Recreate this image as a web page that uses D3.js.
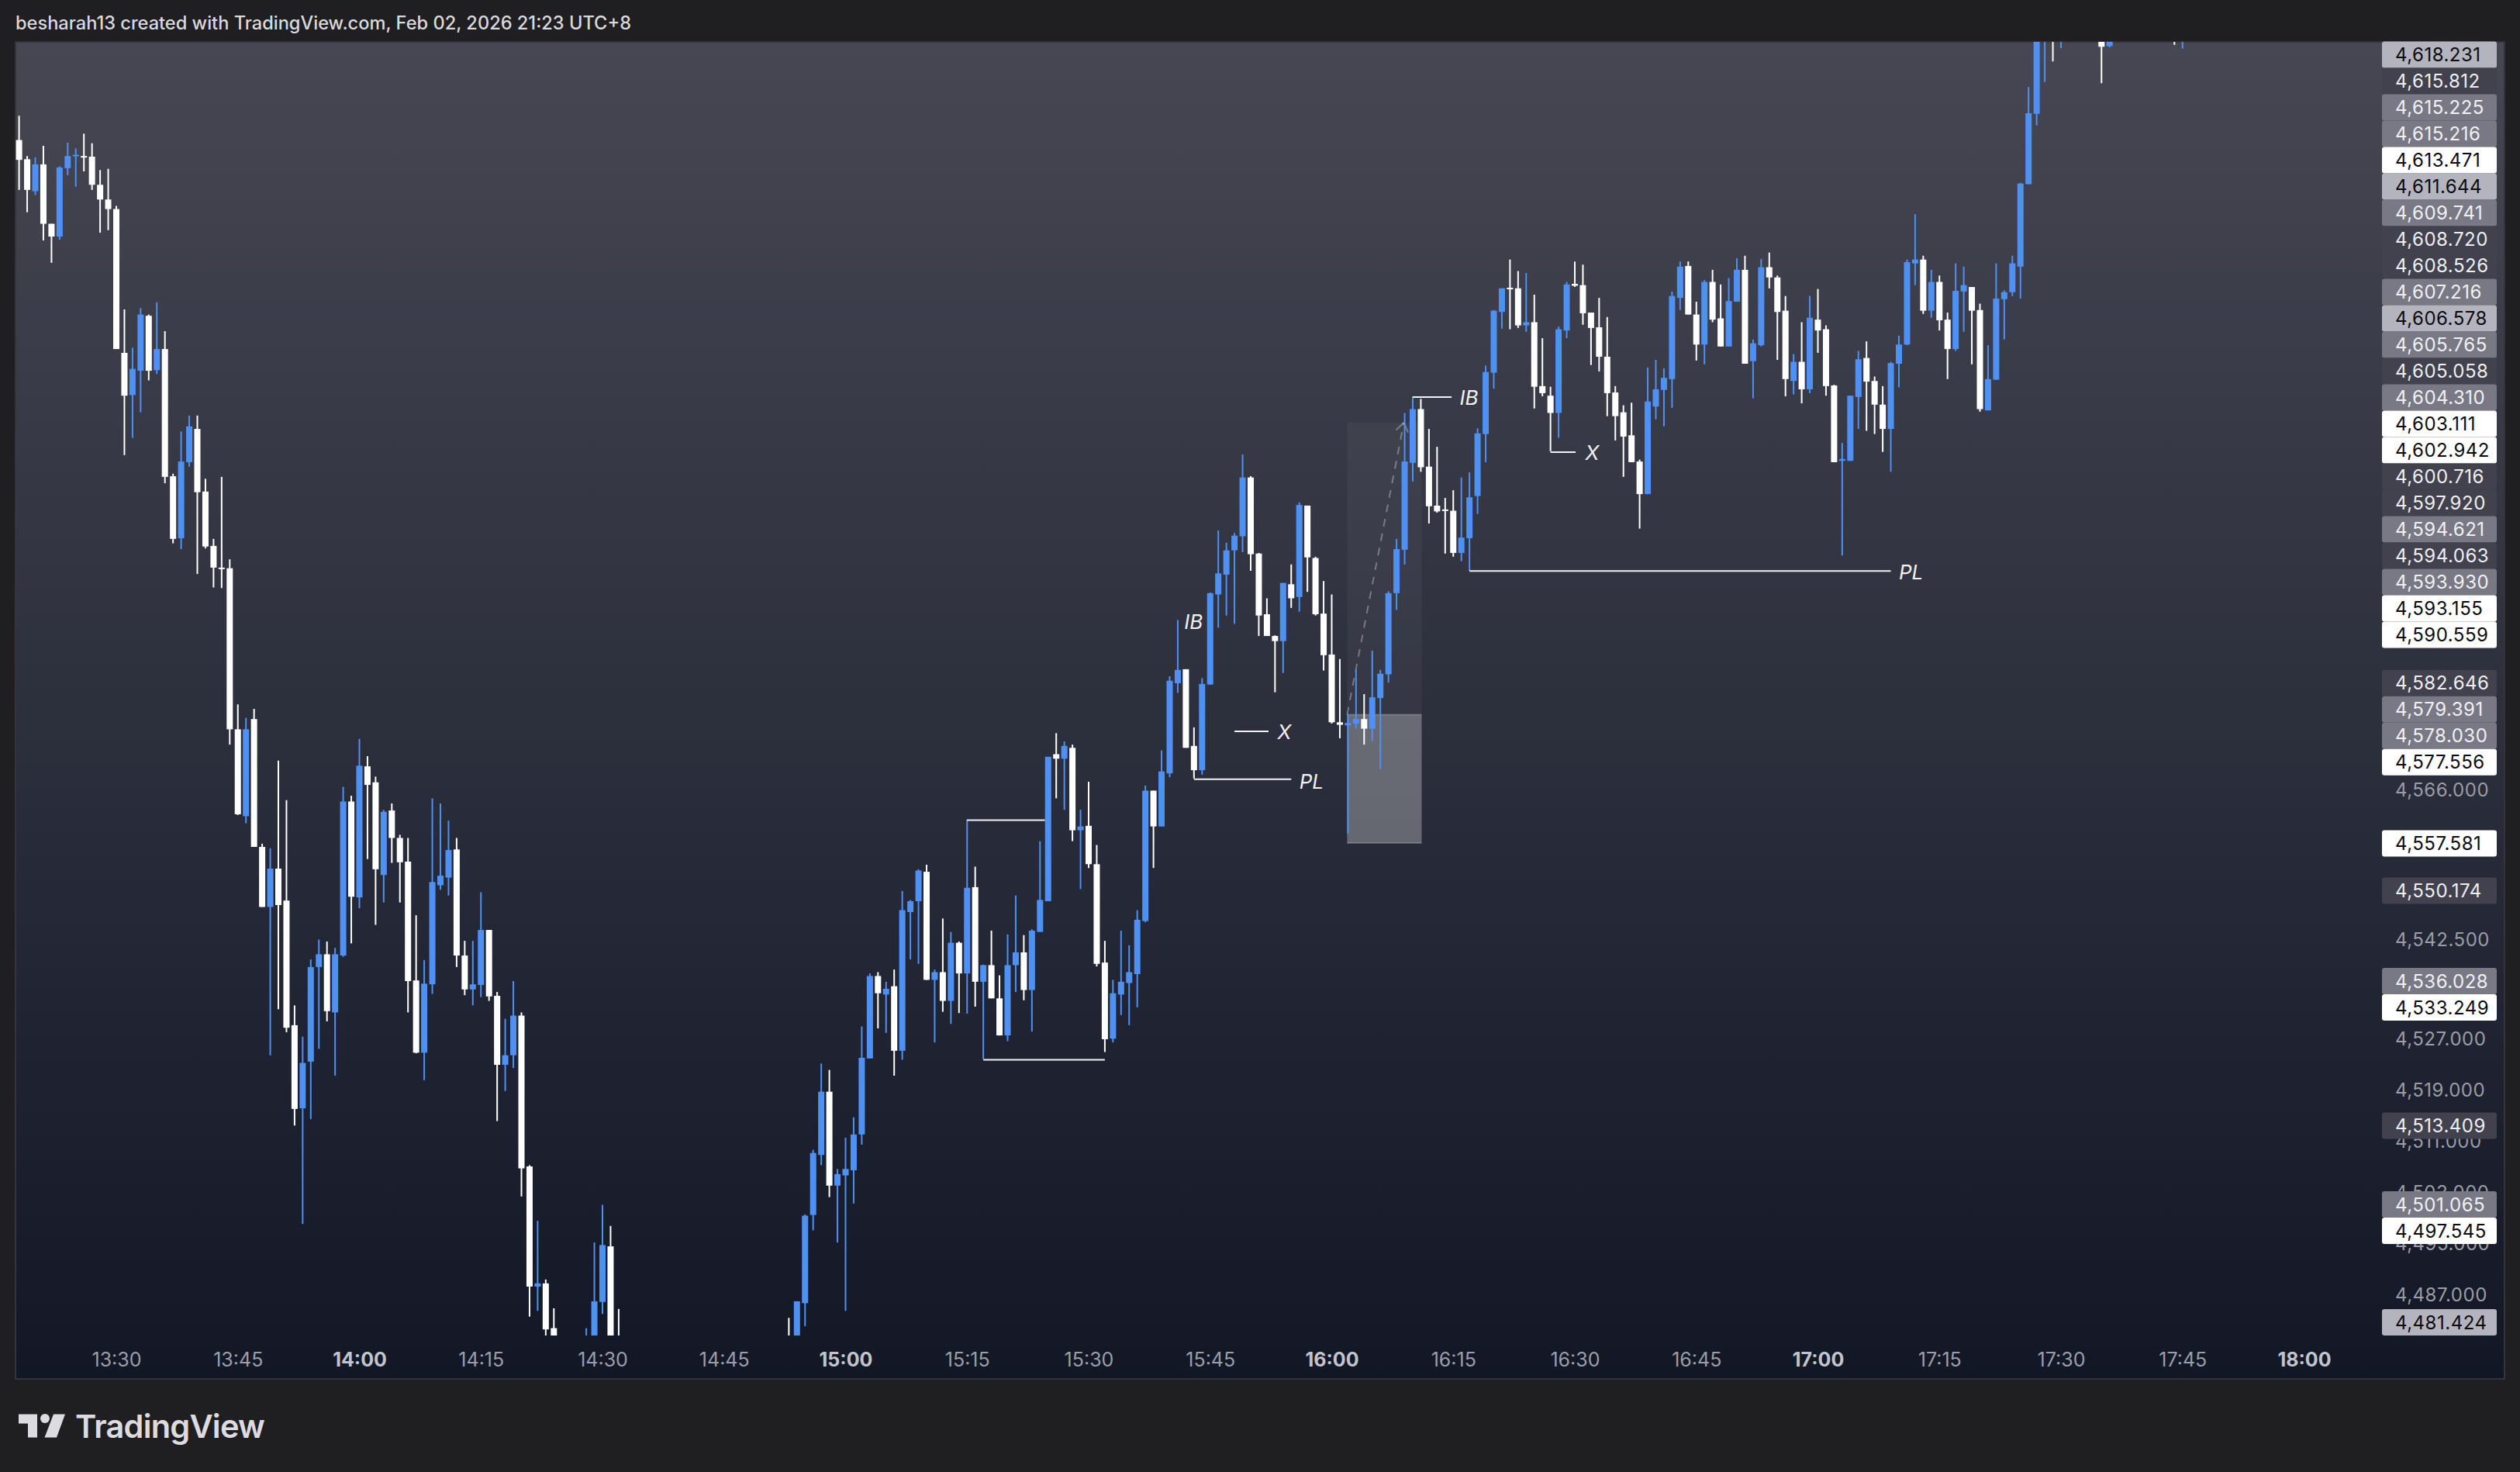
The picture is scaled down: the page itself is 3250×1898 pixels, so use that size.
<!DOCTYPE html>
<html><head><meta charset="utf-8">
<script src="https://cdn.jsdelivr.net/npm/d3@7/dist/d3.min.js"></script>
<style>html,body{margin:0;padding:0;background:#1f1e21;overflow:hidden}svg{display:block}</style>
</head><body><svg id="c" width="3250" height="1898"></svg>
<script>
const _ = null;
// 1-minute candles starting at 13:18; null = outside the visible pane
const opens = [
4667.5,4664.5,4659.5,4663.7,4654.4,4652.4,4663.1,4665.0,4665.0,4664.9,
4660.5,4658.2,4656.7,4634.2,4627.6,4631.4,4640.0,4631.5,4634.8,4614.9,
4605.2,4617.1,4622.3,4612.5,4604.0,4600.6,4600.5,4575.3,4561.7,4576.9,
4556.9,4547.5,4553.5,4548.5,4529.0,4516.0,4523.3,4538.1,4540.1,4531.0,
4539.9,4564.0,4549.0,4569.5,4567.0,4552.5,4562.6,4558.3,4554.6,4536.0,
4524.7,4535.4,4550.9,4552.1,4556.5,4539.9,4534.6,4535.3,4543.9,4533.6,
4522.8,4524.3,4530.5,4506.9,4488.1,4488.6,4481.6,_,_,_,
4474.0,4476.0,4485.7,4494.4,4478.0,_,_,_,_,_,
_,_,_,_,_,_,_,_,_,_,
_,_,_,_,_,4478.0,4476.0,4485.5,4499.3,4508.7,
4518.6,4503.9,4505.5,4506.3,4511.9,4523.8,4536.7,4533.8,4535.1,4525.0,
4546.7,4548.4,4553.0,4536.1,4537.3,4532.8,4541.9,4537.1,4550.6,4535.8,
4538.4,4533.2,4527.4,4538.4,4540.4,4534.5,4543.6,4548.4,4571.4,4570.7,
4572.4,4559.5,4560.2,4554.2,4538.8,4526.9,4533.8,4535.6,4537.0,4545.3,
4565.7,4560.1,4568.4,4582.5,4584.7,4572.7,4568.9,4582.3,4596.4,4599.5,
4603.3,4605.5,4614.7,4602.8,4593.3,4589.9,4589.1,4598.0,4596.0,4610.3,
4602.1,4593.4,4587.0,4576.4,4575.9,4576.2,4576.9,4575.4,4580.2,4583.9,
4596.6,4603.4,4617.0,4625.4,4616.4,4610.3,4609.7,4609.5,4602.9,4605.2,
4611.8,4621.5,4631.1,4640.6,4644.4,4644.3,4638.5,4639.0,4629.0,4627.5,
4624.8,4637.7,4645.0,4644.8,4640.5,4638.2,4633.6,4628.0,4624.9,4621.3,
4617.2,4612.1,4625.8,4628.4,4630.1,4642.8,4647.8,4640.2,4635.5,4645.3,
4639.6,4635.2,4642.2,4647.2,4632.9,4635.4,4647.6,4646.0,4640.8,4629.8,
4632.8,4628.5,4639.4,4637.9,4629.1,4617.3,4617.3,4627.3,4633.4,4629.8,
4626.1,4622.3,4632.5,4635.5,4648.2,4648.8,4640.8,4645.3,4639.4,4634.8,
4643.8,4644.5,4640.9,4625.2,4630.0,4642.6,4643.7,4647.7,4660.6,4671.6,
4686,4692,4690,_,_,_,_,4689,4682.2,_,
_,_,_,_,_,_,4692,4687];
const highs = [
4671.3,4665.0,4664.8,4666.6,4654.4,4663.4,4667.1,4666.2,4668.5,4667.0,
4662.8,4663.0,4657.2,4641.0,4635.0,4641.2,4640.2,4642.1,4637.6,4615.3,
4621.9,4624.4,4624.4,4614.5,4605.1,4614.8,4601.9,4579.2,4577.1,4578.5,
4557.4,4556.7,4570.4,4564.2,4532.1,4527.2,4539.3,4542.4,4542.1,4541.1,
4566.3,4564.9,4573.8,4571.1,4567.9,4562.7,4563.7,4558.8,4558.3,4546.2,
4539.2,4564.5,4563.7,4561.0,4558.3,4542.2,4542.2,4549.8,4543.9,4534.2,
4530.0,4535.9,4531.0,4507.1,4498.4,4489.2,4484.7,_,_,_,
4481.6,4495.0,4500.9,4497.6,4484.6,_,_,_,_,_,
_,_,_,_,_,_,_,_,_,_,
_,_,_,_,_,4483.2,4485.8,4499.4,4509.5,4523.0,
4522.0,4506.5,4511.4,4514.6,4528.8,4537.1,4537.3,4535.8,4537.7,4550.0,
4548.6,4553.4,4554.1,4537.7,4545.7,4543.6,4542.1,4561.2,4553.8,4538.5,
4543.8,4536.8,4543.2,4549.3,4543.1,4544.0,4557.8,4571.0,4574.7,4573.4,
4572.9,4562.7,4567.1,4557.2,4542.2,4536.1,4543.8,4541.5,4547.0,4566.5,
4565.7,4572.0,4583.6,4592.4,4584.7,4575.6,4583.3,4596.7,4606.4,4604.5,
4606.0,4618.3,4614.9,4602.9,4595.8,4590.0,4598.2,4601.1,4610.8,4610.3,
4602.3,4598.5,4596.4,4586.3,4577.7,4584.6,4580.8,4587.6,4584.6,4596.9,
4605.1,4624.8,4627.4,4627.0,4622.3,4619.5,4611.5,4612.7,4614.7,4615.5,
4622.4,4632.2,4640.9,4644.3,4648.8,4647.0,4646.7,4643.3,4636.5,4628.9,
4638.3,4645.3,4648.5,4648.0,4640.5,4642.8,4639.8,4629.0,4626.0,4626.4,
4617.5,4631.9,4633.1,4631.8,4643.8,4648.5,4648.5,4642.2,4645.6,4647.2,
4644.9,4645.9,4649.0,4649.4,4636.3,4648.9,4649.9,4646.3,4643.1,4634.0,
4639.0,4643.1,4644.2,4638.5,4629.2,4620.1,4627.5,4634.5,4636.0,4630.5,
4629.0,4632.8,4636.9,4648.8,4655.9,4649.4,4647.2,4646.3,4640.5,4648.2,
4647.7,4644.5,4641.9,4635.4,4648.2,4644.0,4649.4,4660.8,4675.8,4690.0,
4695,4695,4697,_,_,_,_,4692,4692,_,
_,_,_,_,_,_,4693,4694];
const lows = [
4659.7,4656.2,4658.9,4651.8,4648.3,4651.9,4662.0,4660.2,4662.6,4659.7,
4653.0,4653.4,4634.8,4618.2,4620.9,4624.9,4629.9,4630.9,4613.8,4604.4,
4603.5,4616.4,4599.6,4603.6,4597.5,4597.4,4572.9,4561.9,4560.6,4556.9,
4547.5,4524.3,4531.5,4527.9,4513.3,4497.9,4514.3,4525.3,4529.6,4521.1,
4539.7,4541.8,4547.3,4555.0,4544.7,4548.2,4554.4,4548.2,4531.0,4524.6,
4520.4,4533.9,4550.2,4549.3,4538.1,4533.7,4532.1,4533.4,4532.8,4514.0,
4518.7,4522.3,4502.2,4483.4,4484.3,4480.4,4476.0,_,_,_,
4472.0,4474.0,4483.8,4474.0,4472.0,_,_,_,_,_,
_,_,_,_,_,_,_,_,_,_,
_,_,_,_,_,4472.0,4474.0,4481.9,4496.9,4507.1,
4502.1,4495.0,4484.3,4501.1,4510.3,4523.8,4528.5,4527.8,4521.1,4523.6,
4539.3,4538.6,4536.1,4526.3,4531.1,4529.2,4530.9,4530.8,4531.9,4523.7,
4533.2,4527.4,4526.5,4534.2,4532.9,4528.0,4543.6,4548.4,4564.5,4562.7,
4557.8,4550.3,4553.6,4538.2,4524.8,4526.3,4530.6,4529.0,4531.8,4545.1,
4553.6,4560.1,4567.8,4581.0,4572.4,4567.6,4568.2,4582.3,4591.2,4593.1,
4591.8,4603.0,4600.1,4589.9,4589.9,4581.1,4584.1,4594.3,4593.7,4596.8,
4593.1,4584.5,4576.2,4573.9,4559.0,4575.4,4572.9,4573.5,4569.1,4582.6,
4594.0,4601.1,4614.1,4615.6,4607.5,4609.2,4602.8,4602.3,4601.6,4600.1,
4609.0,4617.1,4628.6,4638.0,4637.9,4638.1,4637.5,4625.5,4627.4,4618.8,
4620.9,4636.5,4644.5,4638.6,4632.3,4631.3,4624.3,4620.5,4614.8,4617.1,
4606.7,4612.1,4623.8,4622.7,4625.6,4640.9,4640.2,4633.0,4632.4,4639.0,
4635.2,4635.2,4642.2,4632.5,4627.1,4635.2,4644.3,4633.1,4627.4,4627.7,
4626.3,4627.9,4634.2,4627.5,4617.1,4602.5,4617.3,4622.3,4622.0,4621.5,
4618.7,4615.6,4628.8,4635.4,4644.8,4640.3,4639.7,4637.7,4630.1,4634.5,
4637.5,4632.4,4625.0,4625.2,4630.0,4636.3,4643.1,4642.7,4660.6,4669.8,
4676.6,4679.8,4681.9,_,_,_,_,4676.4,4682.0,_,
_,_,_,_,_,_,4682.4,4681.8];
const closes = [
4664.4,4659.7,4663.7,4654.4,4652.4,4663.2,4665.0,4665.2,4664.8,4660.5,
4658.2,4656.7,4634.8,4627.5,4631.7,4640.2,4631.4,4634.8,4614.8,4605.1,
4617.2,4622.7,4612.4,4603.9,4600.6,4600.4,4575.3,4562.0,4575.3,4556.9,
4547.5,4553.5,4547.8,4528.6,4515.9,4523.1,4538.1,4540.1,4531.2,4540.1,
4564.0,4549.1,4569.6,4566.6,4553.4,4562.4,4558.3,4554.5,4535.9,4524.7,
4535.5,4551.4,4552.4,4556.4,4539.9,4534.6,4535.4,4543.9,4533.5,4522.8,
4524.3,4530.5,4506.6,4488.1,4488.6,4481.4,4478.0,_,_,_,
4479.0,4485.8,4494.6,4476.0,4474.0,_,_,_,_,_,
_,_,_,_,_,_,_,_,_,_,
_,_,_,_,_,4474.0,4485.8,4499.2,4509.0,4518.6,
4503.9,4505.7,4506.5,4511.9,4523.9,4536.7,4534.0,4534.7,4525.0,4547.0,
4548.4,4553.2,4536.1,4537.3,4532.8,4541.9,4537.1,4550.5,4535.8,4538.4,
4533.2,4527.4,4538.4,4540.4,4534.5,4543.8,4548.6,4571.0,4570.7,4572.7,
4559.5,4560.1,4554.2,4538.6,4526.8,4534.0,4535.8,4537.3,4545.5,4565.7,
4560.1,4568.7,4582.9,4584.6,4572.4,4568.9,4582.4,4596.6,4599.7,4603.3,
4605.6,4614.7,4602.7,4593.1,4589.9,4589.1,4598.2,4595.8,4610.4,4602.2,
4593.3,4586.9,4576.4,4576.0,4576.3,4576.9,4575.4,4580.3,4584.0,4596.6,
4603.5,4617.2,4625.4,4616.3,4610.2,4609.4,4609.5,4602.9,4605.3,4611.6,
4621.6,4631.2,4640.8,4644.3,4644.2,4638.5,4639.0,4628.9,4627.9,4624.8,
4637.9,4644.9,4644.7,4640.4,4638.1,4633.6,4627.9,4624.3,4621.1,4617.1,
4612.1,4626.6,4628.5,4630.3,4643.1,4647.7,4640.2,4635.5,4645.3,4639.4,
4635.2,4642.3,4647.2,4632.5,4635.7,4647.6,4646.0,4640.6,4630.1,4632.8,
4628.5,4639.7,4637.7,4629.0,4617.1,4617.6,4627.5,4633.2,4629.7,4626.1,
4622.3,4632.6,4635.5,4648.4,4648.8,4640.8,4645.3,4639.3,4634.8,4643.9,
4644.8,4640.8,4625.4,4630.1,4642.7,4643.7,4648.2,4660.7,4671.7,4686.0,
4692,4688,4695,_,_,_,_,4682.1,4690,_,
_,_,_,_,_,_,4688,4692];

const startMinute = 13*60+18;
const timeTicks = ["13:30","13:45","14:00","14:15","14:30","14:45","15:00","15:15","15:30","15:45","16:00","16:15","16:30","16:45","17:00","17:15","17:30","17:45","18:00"];
const priceTicks = [4566,4542.5,4527,4519,4511,4503,4495,4487];
const markValues = [4618.231,4615.812,4615.225,4615.216,4613.471,4611.644,4609.741,4608.720,4608.526,4607.216,4606.578,4605.765,4605.058,4604.310,4603.111,4602.942,4600.716,4597.920,4594.621,4594.063,4593.930,4593.155,4590.559,4582.646,4579.391,4578.030,4577.556,4557.581,4550.174,4536.028,4533.249,4513.409,4501.065,4497.545,4481.424];
const markTiers = ["light","dark","mid","mid","white","light","mid","dark","dark","mid","light","mid","dark","mid","white","white","dark","dark","mid","dark","mid","white","white","dark","mid","mid","white","white","dark","mid","white","dark","mid","white","light"];
const anchorMark = 4590.559;
// annotation lines: [from candle, to candle, price]
const refLines = [[117,126.6,4561.2],[119,134,4523.7],[145,157,4567.6],[150,154.2,4575.1],[172,176.8,4627.4],[189,192.1,4618.8],[179,231,4600.2]];
// annotation labels: [candle position, price, text]
const refTexts = [[158,4567.4,"PL"],[155.3,4575.1,"X"],[143.8,4592.4,"IB"],[177.8,4627.4,"IB"],[193.3,4618.8,"X"],[232,4600.2,"PL"]];
const positionBox = {from:163.9,to:173.1,target:4623.3,entry:4577.6,stop:4557.5};
const pathEnd = {idx:170.9,price:4623.3};
const headerText = "besharah13 created with TradingView.com, Feb 02, 2026 21:23 UTC+8";

const W=3250,H=1898,paneL=20,paneR=3230,paneT=54,paneB=1778,plotB=1722;
const FONT="Inter, Roboto, sans-serif";
const x=d3.scaleLinear().domain([0,1]).range([24.6,35.05]);
const y=d3.scaleLinear().domain([4487,4566]).range([1668,1017]);
const svg=d3.select("#c");
const defs=svg.append("defs");
const g=defs.append("linearGradient").attr("id","bg").attr("gradientUnits","userSpaceOnUse").attr("x1",0).attr("x2",0).attr("y1",paneT).attr("y2",paneB);
g.append("stop").attr("offset",0).attr("stop-color","#474753");
g.append("stop").attr("offset",1).attr("stop-color","#121726");
defs.append("clipPath").attr("id","plot").append("rect").attr("x",paneL).attr("y",paneT).attr("width",paneR-paneL).attr("height",plotB-paneT);

svg.append("rect").attr("width",W).attr("height",H).attr("fill","#1f1e21");
svg.append("rect").attr("x",paneL).attr("y",paneT).attr("width",paneR-paneL).attr("height",paneB-paneT).attr("fill","url(#bg)").attr("stroke","#35343c").attr("stroke-width",2);
svg.append("text").attr("x",20).attr("y",38).attr("font-family",FONT).attr("font-size",23.6).attr("font-weight",500).attr("fill","#d9d9dd").text(headerText);

const plot=svg.append("g").attr("clip-path","url(#plot)");
// position box
const boxX=x(positionBox.from),boxW=x(positionBox.to)-x(positionBox.from);
plot.append("rect").attr("x",boxX).attr("width",boxW).attr("y",y(positionBox.target)).attr("height",y(positionBox.entry)-y(positionBox.target)).attr("fill","#fff").attr("opacity",0.045);
plot.append("rect").attr("x",boxX).attr("width",boxW).attr("y",y(positionBox.entry)).attr("height",y(positionBox.stop)-y(positionBox.entry)).attr("fill","#fff").attr("opacity",0.29);
[positionBox.entry,positionBox.stop].forEach(p=>plot.append("line").attr("x1",boxX).attr("x2",boxX+boxW).attr("y1",y(p)).attr("y2",y(p)).attr("stroke","#fff").attr("stroke-opacity",.2).attr("stroke-width",2));
// dashed path with arrow head
const px0=x(positionBox.from),py0=y(positionBox.entry),px1=x(pathEnd.idx),py1=y(pathEnd.price);
plot.append("line").attr("x1",px0).attr("y1",py0).attr("x2",px1).attr("y2",py1).attr("stroke","#fff").attr("stroke-opacity",.32).attr("stroke-width",2).attr("stroke-dasharray","10 9");
const ang=Math.atan2(py1-py0,px1-px0);
[-0.6,0.6].forEach(s=>plot.append("line").attr("x1",px1).attr("y1",py1).attr("x2",px1-14*Math.cos(ang+s)).attr("y2",py1-14*Math.sin(ang+s)).attr("stroke","#fff").attr("stroke-opacity",.32).attr("stroke-width",2));

const candles=d3.range(opens.length).filter(i=>opens[i]!==null).map(i=>({i,o:opens[i],h:highs[i],l:lows[i],c:closes[i]}));
const BLUE="#4e91f3",WHITE="#ffffff",colr=d=>d.c>=d.o?BLUE:WHITE;
plot.selectAll("line.w").data(candles).join("line").attr("class","w").attr("x1",d=>x(d.i)).attr("x2",d=>x(d.i)).attr("y1",d=>y(d.h)).attr("y2",d=>y(d.l)).attr("stroke",colr).attr("stroke-width",2);
plot.selectAll("rect.b").data(candles).join("rect").attr("class","b").attr("x",d=>x(d.i)-4).attr("width",8).attr("y",d=>y(Math.max(d.o,d.c))).attr("height",d=>Math.max(2,Math.abs(y(d.o)-y(d.c)))).attr("fill",colr);

plot.selectAll("line.ref").data(refLines).join("line").attr("class","ref").attr("x1",d=>x(d[0])).attr("x2",d=>x(d[1])).attr("y1",d=>y(d[2])+1).attr("y2",d=>y(d[2])+1).attr("stroke","#f2f2f4").attr("stroke-width",2);
plot.selectAll("text.ref").data(refTexts).join("text").attr("class","ref").attr("x",d=>x(d[0])).attr("y",d=>y(d[1])).attr("dy","0.44em").attr("font-family",FONT).attr("font-style","italic").attr("font-size",26).attr("fill","#f2f2f4").text(d=>d[2]);

// time axis
const tMin=s=>{const [a,b]=s.split(":").map(Number);return a*60+b-startMinute;};
const axT=svg.append("g").attr("transform",`translate(0,1745)`).call(d3.axisBottom(x).tickValues(timeTicks.map(tMin)).tickSize(0).tickPadding(0).tickFormat((d,i)=>timeTicks[i]));
axT.select(".domain").remove();
axT.selectAll("text").attr("font-family",FONT).attr("font-size",25).attr("dy",0).attr("y",17).attr("fill","#9b9ea9").each(function(d,i){if(timeTicks[i].endsWith(":00"))d3.select(this).attr("font-weight",700).attr("fill","#c2c4cd");});

// price axis
const axP=svg.append("g").attr("transform","translate(3089,1.5)").call(d3.axisRight(y).tickValues(priceTicks).tickSize(0).tickPadding(0).tickFormat(d3.format(",.3f")));
axP.select(".domain").remove();
axP.selectAll("text").attr("font-family",FONT).attr("font-size",24).attr("letter-spacing",0.5).attr("fill","#9a9ca6");

// stacked price marks
const rowH=34,ys=markValues.map(v=>y(v));
const a=markValues.indexOf(anchorMark);ys[a]+=3;
for(let i=a-1;i>=0;i--)ys[i]=Math.min(ys[i],ys[i+1]-rowH);
for(let i=a+1;i<ys.length;i++)ys[i]=Math.max(ys[i],ys[i-1]+rowH);
ys[ys.length-1]=Math.min(ys[ys.length-1],1704);
const tierFill={white:"#ffffff",light:"#b4b4bf",mid:"#787985",dark:"#41424e"};
const tierText={white:"#0b0b10",light:"#0b0b10",mid:"#f0f0f3",dark:"#eeeef1"};
const marks=svg.append("g").selectAll("g").data(markValues).join("g").attr("transform",(d,i)=>`translate(3072,${ys[i]+1})`);
marks.append("rect").attr("y",-17).attr("width",148).attr("height",34).attr("rx",3).attr("fill",(d,i)=>tierFill[markTiers[i]]);
marks.append("text").attr("x",17).attr("dy","0.36em").attr("font-family",FONT).attr("font-size",24).attr("letter-spacing",0.5).attr("fill",(d,i)=>tierText[markTiers[i]]).text(d=>d3.format(",.3f")(d));

// logo
const logo=svg.append("g").attr("fill","#dcdce0").attr("transform","translate(0,1.5)");
logo.append("path").attr("d","M24 1822H48V1852H36V1834H24Z");
logo.append("circle").attr("cx",58).attr("cy",1827.5).attr("r",6);
logo.append("path").attr("d","M69 1822H84L73 1852H57.5Z");
logo.append("text").attr("x",97).attr("y",1852).attr("font-family",FONT).attr("font-size",41.5).attr("font-weight",600).attr("letter-spacing","-0.8").text("TradingView");
</script></body></html>
